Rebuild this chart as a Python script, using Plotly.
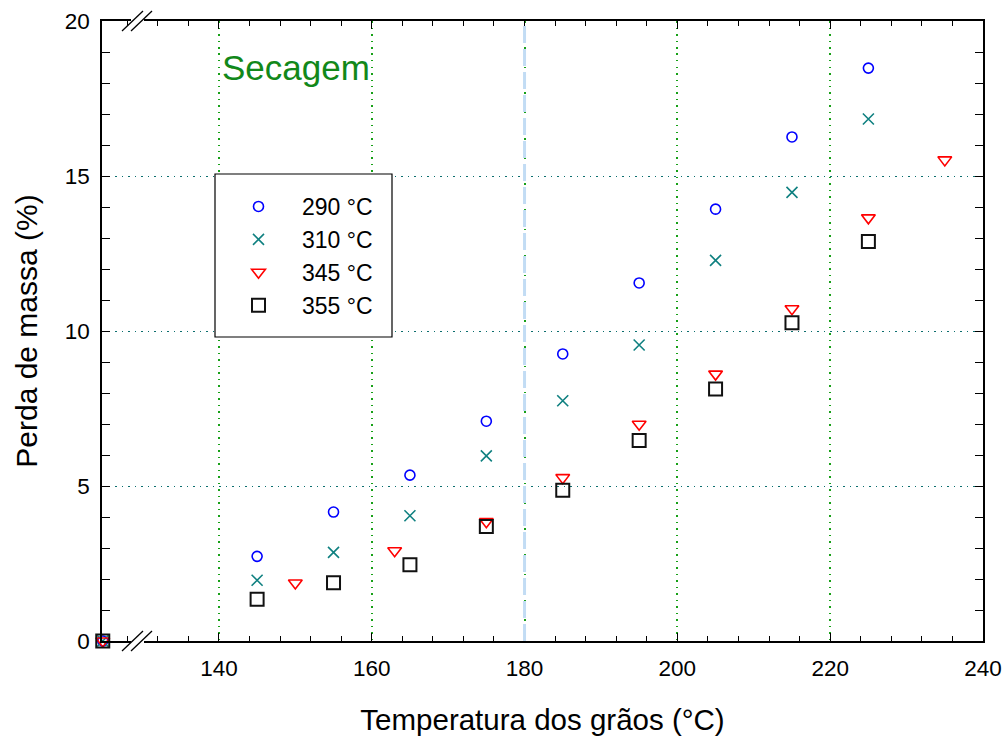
import plotly.graph_objects as go

# ---- data ----
x_main = [124.8, 145, 155, 165, 175, 185, 195, 205, 215, 225]
y_290 = [0, 2.73, 4.16, 5.35, 7.09, 9.26, 11.55, 13.93, 16.26, 18.48]
y_310 = [0, 1.96, 2.86, 4.04, 5.97, 7.75, 9.55, 12.28, 14.47, 16.84]
x_345 = [124.8, 150, 163, 175, 185, 195, 205, 215, 225, 235]
y_345 = [0, 1.87, 2.91, 3.85, 5.27, 6.99, 8.61, 10.72, 13.65, 15.52]
y_355 = [0, 1.35, 1.88, 2.46, 3.69, 4.86, 6.47, 8.13, 10.27, 12.89]

series_names = ["290 °C", "310 °C", "345 °C", "355 °C"]
x_range = [124.7, 240]
y_range = [0, 20]
x_ticks = [140, 160, 180, 200, 220, 240]
y_ticks = [0, 5, 10, 15, 20]
divider_x = 180

FONT = "Liberation Sans, Arial, sans-serif"

fig = go.Figure()
fig.add_trace(go.Scatter(x=x_main, y=y_290, mode="markers", name=series_names[0],
                         marker=dict(symbol="circle-open", size=10, color="#0000ff",
                                     line=dict(width=1.6, color="#0000ff")),
                         cliponaxis=False))
fig.add_trace(go.Scatter(x=x_main, y=y_310, mode="markers", name=series_names[1],
                         marker=dict(symbol="x-thin-open", size=11, color="#0f8080",
                                     line=dict(width=1.6, color="#0f8080")),
                         cliponaxis=False))
fig.add_trace(go.Scatter(x=x_345, y=y_345, mode="markers", name=series_names[2],
                         marker=dict(symbol="triangle-down-open", size=12, color="#ff0000",
                                     line=dict(width=1.6, color="#ff0000")),
                         cliponaxis=False))
fig.add_trace(go.Scatter(x=x_main, y=y_355, mode="markers", name=series_names[3],
                         marker=dict(symbol="square-open", size=13, color="#111111",
                                     line=dict(width=2, color="#111111")),
                         cliponaxis=False))

# vertical divider between drying phases
fig.add_shape(type="line", xref="x", yref="paper", x0=divider_x, x1=divider_x, y0=0, y1=1,
              line=dict(color="#c2dcf4", width=3, dash="17px,6px"), layer="above")

L, R, T, B = 102, 983, 21, 641


def px_to_paper(px, py):
    return (px - L) / (R - L), (B - py) / (B - T)


# axis-break marks (top and bottom)
for base in (T, B):
    a = px_to_paper(131, base)
    b = px_to_paper(144, base)
    fig.add_shape(type="line", xref="paper", yref="paper", x0=a[0], y0=a[1], x1=b[0], y1=b[1],
                  line=dict(color="white", width=4), layer="above")
    for off in (0, 9):
        p0 = px_to_paper(122 + off, base + 10)
        p1 = px_to_paper(143 + off, base - 10)
        fig.add_shape(type="line", xref="paper", yref="paper", x0=p0[0], y0=p0[1],
                      x1=p1[0], y1=p1[1], line=dict(color="black", width=1.3), layer="above")

# legend frame
f0 = px_to_paper(215, 337)
f1 = px_to_paper(392, 174)
fig.add_shape(type="rect", xref="paper", yref="paper", x0=f0[0], y0=f0[1], x1=f1[0], y1=f1[1],
              line=dict(color="black", width=1.2), fillcolor="white", layer="above")

fig.add_annotation(x=140.2, y=18.5, xref="x", yref="y", text="Secagem", showarrow=False,
                   xanchor="left", yanchor="middle",
                   font=dict(family=FONT, size=35, color="#12881a"))

fig.update_xaxes(range=x_range, tickvals=x_ticks, ticks="inside", ticklen=8, tickwidth=1,
                 tickcolor="black", showline=True, linecolor="black", linewidth=1.5,
                 mirror="ticks", showgrid=True, gridcolor="#17a017", griddash="1.5px,5px",
                 gridwidth=1.5, zeroline=False, automargin=False,
                 minor=dict(ticks="inside", ticklen=5, tick0=140, dtick=4, tickcolor="black",
                            showgrid=False),
                 ticklabelstandoff=6,
                 tickfont=dict(family=FONT, size=22.5, color="black"),
                 title=dict(text="Temperatura dos grãos (°C)", standoff=30,
                            font=dict(family=FONT, size=29.5, color="black")))
fig.update_yaxes(range=y_range, tickvals=y_ticks, ticks="inside", ticklen=8, tickwidth=1,
                 tickcolor="black", showline=True, linecolor="black", linewidth=1.5,
                 mirror="ticks", showgrid=True, gridcolor="#0b6e6e", griddash="1.5px,5px",
                 gridwidth=1.3, zeroline=False, automargin=False,
                 minor=dict(ticks="inside", ticklen=8, dtick=1, tickcolor="black",
                            showgrid=False),
                 ticklabelstandoff=6,
                 tickfont=dict(family=FONT, size=22.5, color="black"),
                 title=dict(text="Perda de massa (%)", standoff=18,
                            font=dict(family=FONT, size=30, color="black")))

lg = px_to_paper(215, 185)
fig.update_layout(
    width=1008, height=738,
    margin=dict(l=L, r=1008 - R, t=T, b=738 - B, autoexpand=False),
    paper_bgcolor="white", plot_bgcolor="white",
    font=dict(family=FONT, color="black"),
    legend=dict(x=lg[0], y=lg[1], xanchor="left", yanchor="top",
                bgcolor="rgba(0,0,0,0)", borderwidth=0,
                font=dict(family=FONT, size=23, color="black"),
                itemwidth=77),
    showlegend=True,
)

fig.write_html("out.html")
